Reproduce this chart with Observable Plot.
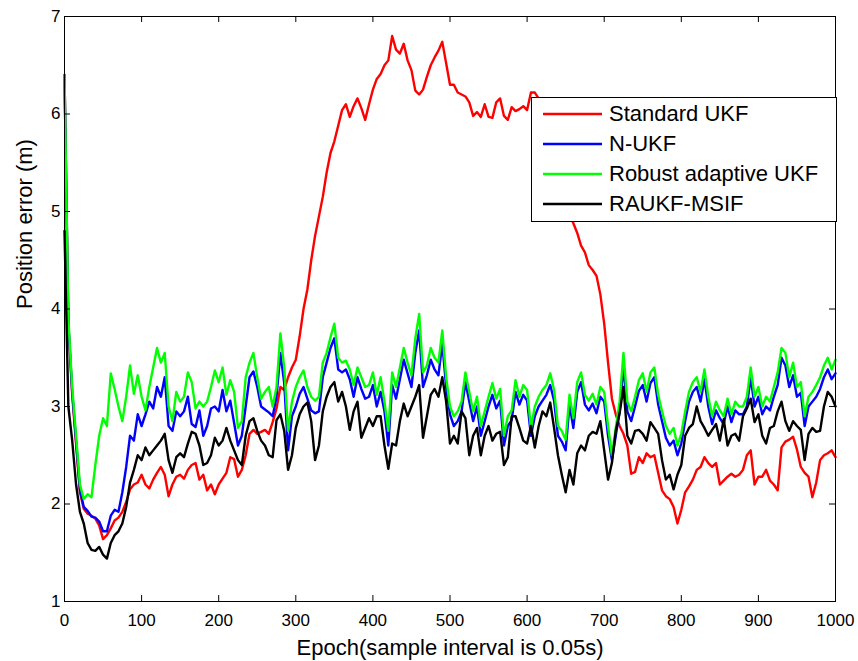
<!DOCTYPE html>
<html><head><meta charset="utf-8">
<script src="https://cdn.jsdelivr.net/npm/d3@7"></script>
<script src="https://cdn.jsdelivr.net/npm/@observablehq/plot@0.6"></script>
<style>
body{margin:0;background:#fff;}
#wrap{position:relative;width:858px;height:661px;font-family:"Liberation Sans",Arial,sans-serif;background:#fff;}
#legend{position:absolute;left:531px;top:97px;width:306px;height:125px;border:1px solid #000;background:#fff;box-sizing:border-box;}
.row{position:absolute;left:0;height:30px;display:flex;align-items:center;font-size:22px;color:#000;white-space:nowrap;}
.row svg{margin-left:11px;margin-right:7px;}
</style></head>
<body><div id="wrap"></div>
<script>
const step = 5; // epochs between stored samples
const xTicks = [0,100,200,300,400,500,600,700,800,900,1000];
const yTicks = [1,2,3,4,5,6,7];
const seriesNames = ["Standard UKF","N-UKF","Robust adaptive UKF","RAUKF-MSIF"];
const seriesColors = ["#ff0000","#0000ff","#00ff00","#000000"];

const standardUKF = [
6.4,3.85,3.12,2.62,2.12,1.95,1.9,1.88,1.85,1.78,
1.64,1.68,1.75,1.83,1.86,1.92,2.02,2.15,2.2,2.22,
2.3,2.2,2.16,2.25,2.32,2.38,2.3,2.08,2.2,2.28,
2.3,2.26,2.35,2.4,2.42,2.25,2.3,2.14,2.2,2.1,
2.2,2.26,2.32,2.48,2.46,2.28,2.35,2.5,2.72,2.76,
2.72,2.74,2.76,2.72,2.84,2.98,3.2,3.17,3.3,3.4,
3.48,3.72,4.0,4.2,4.5,4.75,4.95,5.15,5.4,5.6,
5.72,5.88,6.04,6.1,5.97,6.08,6.16,6.06,5.94,6.1,
6.25,6.36,6.41,6.5,6.55,6.8,6.66,6.62,6.72,6.55,
6.45,6.24,6.2,6.25,6.38,6.5,6.58,6.65,6.74,6.52,
6.3,6.3,6.22,6.2,6.18,6.12,5.98,6.02,5.97,6.1,
5.97,5.96,6.12,6.16,5.98,5.94,6.07,6.03,6.05,6.08,
6.04,6.22,6.22,6.16,6.05,5.9,5.75,5.58,5.42,5.25,
5.1,4.98,4.88,4.78,4.65,4.58,4.45,4.4,4.34,4.15,
3.85,3.45,3.08,2.92,2.8,2.72,2.6,2.31,2.33,2.48,
2.42,2.52,2.48,2.5,2.32,2.14,2.08,2.05,1.97,1.8,
1.94,2.12,2.18,2.25,2.35,2.38,2.48,2.42,2.38,2.42,
2.2,2.24,2.28,2.31,2.28,2.3,2.35,2.5,2.55,2.2,
2.28,2.28,2.35,2.24,2.2,2.14,2.58,2.64,2.66,2.69,
2.56,2.38,2.32,2.28,2.07,2.22,2.45,2.5,2.52,2.55,
2.48];

const nUKF = [
6.4,3.85,3.15,2.65,2.15,1.97,1.93,1.87,1.86,1.82,
1.72,1.72,1.88,1.94,1.92,2.12,2.38,2.7,2.65,2.92,
2.8,2.92,3.05,2.98,3.2,3.1,3.3,2.8,2.75,2.95,
2.9,2.95,3.1,2.82,2.79,2.96,2.7,2.8,2.98,3.0,
2.95,3.17,2.95,3.06,2.83,2.6,2.7,3.0,3.3,3.36,
3.2,3.0,2.97,2.94,2.9,3.1,3.55,3.24,2.55,2.9,
3.0,3.13,3.2,3.08,2.96,2.93,2.95,3.3,3.45,3.6,
3.7,3.38,3.35,3.38,3.28,3.1,3.3,3.18,3.08,3.1,
3.22,3.0,3.15,2.95,2.6,3.22,3.08,3.28,3.48,3.34,
3.2,3.55,3.78,3.2,3.32,3.48,3.38,3.32,3.65,3.2,
2.92,2.8,2.85,2.95,3.25,3.05,2.85,3.0,2.7,2.85,
3.0,3.12,2.98,3.06,2.6,2.8,2.86,3.15,3.02,3.12,
3.06,2.7,2.9,3.0,3.06,3.12,3.22,3.06,2.7,2.64,
2.55,3.02,2.78,3.15,3.25,3.02,2.96,3.03,2.93,3.1,
3.05,2.7,2.45,2.7,2.95,3.42,2.95,2.85,3.0,3.16,
3.22,3.05,3.24,3.3,3.02,2.85,2.68,2.6,2.65,2.5,
2.62,2.85,3.05,3.15,3.2,3.05,3.28,3.0,2.82,2.96,
2.88,2.82,3.0,2.84,2.96,2.92,2.92,3.0,3.3,3.0,
3.1,2.92,3.0,2.96,3.1,3.22,3.5,3.42,3.2,3.32,
3.1,3.14,2.8,3.0,3.05,3.1,3.18,3.3,3.38,3.28,
3.34];

const robustAdaptiveUKF = [
6.4,3.9,3.2,2.7,2.2,2.05,2.1,2.07,2.4,2.7,
2.88,2.8,3.34,3.18,3.0,2.85,3.1,3.42,3.13,3.32,
3.1,2.96,3.2,3.4,3.6,3.45,3.55,3.0,2.85,3.15,
3.05,3.1,3.35,3.25,2.98,3.05,3.0,3.05,3.2,3.37,
3.25,3.4,3.12,3.27,3.15,2.78,2.85,3.3,3.45,3.55,
3.3,3.08,3.15,3.2,3.0,3.2,3.75,3.4,2.75,3.05,
3.2,3.3,3.37,3.2,3.1,3.06,3.1,3.45,3.55,3.71,
3.85,3.5,3.45,3.47,3.38,3.22,3.4,3.3,3.2,3.22,
3.35,3.12,3.3,3.05,2.75,3.35,3.2,3.4,3.6,3.45,
3.32,3.7,3.95,3.35,3.42,3.6,3.5,3.45,3.78,3.3,
3.0,2.9,2.95,3.05,3.35,3.15,2.95,3.1,2.8,2.95,
3.1,3.24,3.08,3.18,2.7,2.9,2.96,3.27,3.1,3.22,
3.17,2.78,3.0,3.1,3.17,3.22,3.34,3.17,2.8,2.75,
2.66,3.12,2.88,3.25,3.35,3.12,3.06,3.13,3.02,3.2,
3.15,2.8,2.5,2.78,3.05,3.55,3.05,2.95,3.1,3.27,
3.34,3.15,3.35,3.4,3.12,2.95,2.8,2.72,2.78,2.6,
2.72,2.95,3.15,3.25,3.3,3.15,3.38,3.1,2.9,3.05,
2.96,2.9,3.08,2.92,3.05,3.0,3.0,3.1,3.4,3.1,
3.2,3.0,3.1,3.05,3.2,3.35,3.6,3.55,3.3,3.45,
3.2,3.25,2.9,3.1,3.15,3.22,3.3,3.42,3.5,3.38,
3.48];

const raukfMSIF = [
4.8,3.0,2.65,2.2,1.92,1.8,1.6,1.53,1.52,1.56,
1.48,1.44,1.6,1.68,1.72,1.8,1.97,2.22,2.35,2.5,
2.45,2.58,2.5,2.55,2.6,2.65,2.72,2.45,2.32,2.48,
2.52,2.48,2.62,2.74,2.72,2.6,2.4,2.42,2.5,2.68,
2.6,2.65,2.78,2.65,2.55,2.45,2.4,2.7,2.85,2.88,
2.75,2.65,2.6,2.5,2.48,2.86,2.92,2.75,2.35,2.5,
2.78,2.92,3.0,3.04,2.85,2.45,2.6,2.95,3.1,3.2,
3.25,3.05,3.15,3.0,2.76,2.95,3.05,2.68,2.78,2.88,
2.8,2.9,2.9,2.6,2.36,2.62,2.6,2.85,3.03,2.9,
3.0,3.1,3.22,2.68,2.9,3.12,3.18,3.1,3.3,3.05,
2.62,2.7,2.62,2.95,2.88,2.5,2.7,2.78,2.5,2.7,
2.8,2.65,2.72,2.74,2.4,2.48,2.9,2.9,2.78,2.65,
2.62,2.8,2.58,2.8,2.95,2.9,3.04,2.78,2.5,2.3,
2.12,2.35,2.2,2.52,2.6,2.55,2.7,2.74,2.72,2.85,
2.55,2.25,2.42,2.75,2.93,3.2,2.7,2.62,2.75,2.76,
2.72,2.65,2.84,2.78,2.72,2.45,2.25,2.3,2.15,2.3,
2.4,2.7,2.78,2.82,3.0,2.85,2.78,2.7,2.76,2.82,
2.65,2.87,2.6,2.7,2.72,2.65,2.9,2.98,3.08,2.84,
2.92,2.7,2.62,2.78,2.8,2.95,3.05,2.85,2.75,2.85,
2.8,2.76,2.45,2.72,2.78,2.74,2.75,3.0,3.15,3.1,
3.0];

const seriesValues = [standardUKF, nUKF, robustAdaptiveUKF, raukfMSIF];
const xLabel = "Epoch(sample interval is 0.05s)";
const yLabel = "Position error (m)";

const W = 858, H = 661, mL = 64, mR = 23, mT = 16, mB = 60;
const tickLen = 6;
const innerW = W - mL - mR, innerH = H - mT - mB;

const chart = Plot.plot({
  width: W, height: H,
  marginLeft: mL, marginRight: mR, marginTop: mT, marginBottom: mB,
  style: {fontFamily: "'Liberation Sans', Arial, sans-serif", fontSize: "17px", color: "#000", background: "#fff"},
  x: {domain: [0, 1000]},
  y: {domain: [1, 7]},
  marks: [
    ...seriesValues.map((vals, k) => Plot.line(vals, {x: (d, i) => i * step, y: d => d, stroke: seriesColors[k], strokeWidth: 2.4, strokeLinejoin: "round"})),
    Plot.frame({stroke: "#000", strokeWidth: 1}),
    // inward tick marks on all four sides
    Plot.tickX(xTicks, {x: d => d, stroke: "#000", insetTop: innerH - tickLen}),
    Plot.tickX(xTicks, {x: d => d, stroke: "#000", insetBottom: innerH - tickLen}),
    Plot.tickY(yTicks, {y: d => d, stroke: "#000", insetRight: innerW - tickLen}),
    Plot.tickY(yTicks, {y: d => d, stroke: "#000", insetLeft: innerW - tickLen}),
    Plot.axisX(xTicks, {anchor: "bottom", tickSize: 0, tickPadding: 12, tickFormat: "d", label: null, fontSize: 17, fill: "#000"}),
    Plot.axisY(yTicks, {anchor: "left", tickSize: 0, tickPadding: 4, tickFormat: "d", label: null, fontSize: 17, fill: "#000"}),
    Plot.text([xLabel], {frameAnchor: "bottom", dy: 53, fontSize: 22, fill: "#000"}),
    Plot.text([yLabel], {frameAnchor: "left", dx: -40, rotate: -90, fontSize: 22, fill: "#000"})
  ]
});

const wrap = document.getElementById("wrap");
wrap.appendChild(chart);

const legend = document.createElement("div");
legend.id = "legend";
seriesNames.forEach((name, k) => {
  const row = document.createElement("div");
  row.className = "row";
  row.style.top = (1 + k * 30) + "px";
  row.innerHTML = `<svg width="59" height="4"><line x1="0" y1="2" x2="59" y2="2" stroke="${seriesColors[k]}" stroke-width="2.4"/></svg><span>${name}</span>`;
  legend.appendChild(row);
});
wrap.appendChild(legend);
</script>
</body></html>
